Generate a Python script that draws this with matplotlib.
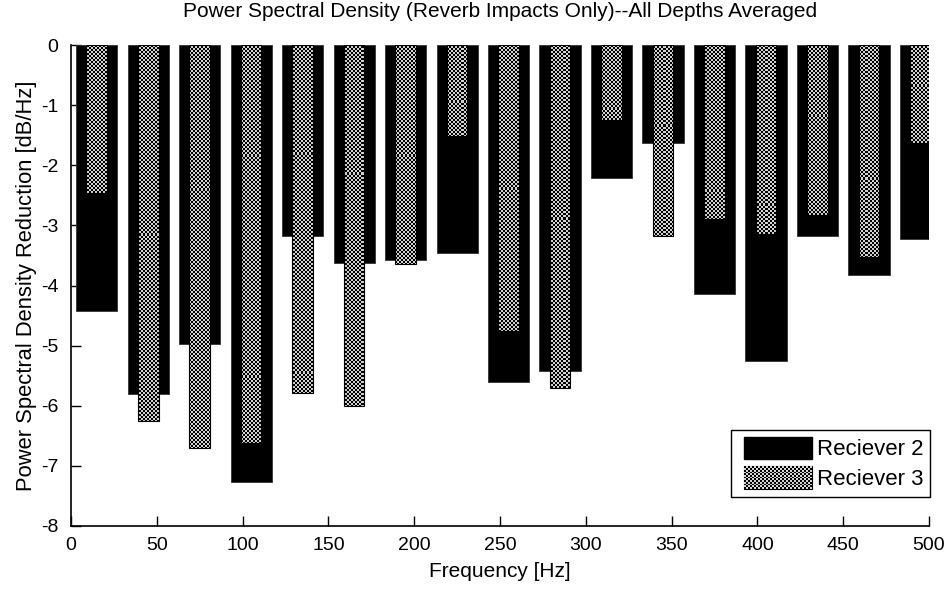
import numpy as np
import matplotlib
matplotlib.use("Agg")
import matplotlib.pyplot as plt
from matplotlib.patches import Rectangle
from matplotlib.legend_handler import HandlerBase

# ---- data ----
freqs = [15, 45, 75, 105, 135, 165, 195, 225, 255, 285, 315, 345, 375, 405, 435, 465, 495]
rec2 = [-4.42, -5.81, -4.97, -7.27, -3.18, -3.63, -3.57, -3.46, -5.61, -5.42,
        -2.21, -1.63, -4.14, -5.25, -3.18, -3.83, -3.23]
rec3 = [-2.46, -6.25, -6.71, -6.62, -5.79, -6.01, -3.65, -1.52, -4.75, -5.70,
        -1.24, -3.18, -2.89, -3.14, -2.83, -3.52, -1.63]
series_labels = ["Reciever 2", "Reciever 3"]
xticks = [0, 50, 100, 150, 200, 250, 300, 350, 400, 450, 500]
yticks = [0, -1, -2, -3, -4, -5, -6, -7, -8]
title = "Power Spectral Density (Reverb Impacts Only)--All Depths Averaged"
xlabel = "Frequency [Hz]"
ylabel = "Power Spectral Density Reduction [dB/Hz]"

plt.rcParams['font.family'] = ['Liberation Sans', 'DejaVu Sans']
FS_TICK = 14
FS = 15

fig = plt.figure(figsize=(9.5, 5.9), dpi=100)
ax = fig.add_axes([71/950, 1-526/590, 858/950, 481/590])

# checker texture (rendered like the reference's dithered grey)
H, W = 240, 429
ii, jj = np.indices((H, W))
checker = np.where((ii + jj) % 2 == 0, 0.0, 0.82)

b2 = ax.bar(freqs, rec2, width=24, color='black', edgecolor='#333333',
            linewidth=0.6, zorder=2, label=series_labels[0])
b3 = ax.bar(freqs, rec3, width=12, facecolor='none', edgecolor='black',
            linewidth=0.8, zorder=4, label=series_labels[1])
for rect in b3:
    im = ax.imshow(checker, extent=(0, 500, -8, 0), aspect='auto',
                   interpolation='nearest', cmap='gray', vmin=0, vmax=1,
                   zorder=3)
    im.set_clip_path(rect)

ax.set_xlim(0, 500)
ax.set_ylim(-8, 0)
ax.set_xticks(xticks)
ax.set_yticks(yticks)
ax.set_xticklabels([str(t) for t in xticks], fontsize=FS_TICK)
ax.set_yticklabels([str(t) for t in yticks], fontsize=FS_TICK)
ax.tick_params(direction='in', length=7, width=1.0)
ax.tick_params(axis='x', pad=8)
ax.tick_params(axis='y', pad=9)
for s in ['top', 'right']:
    ax.spines[s].set_visible(False)
for s in ['left', 'bottom']:
    ax.spines[s].set_linewidth(1.2)
    ax.spines[s].set_zorder(5)

ax.set_title(title, fontsize=FS, pad=20)
ax.set_xlabel(xlabel, fontsize=FS, labelpad=6)
ax.set_ylabel(ylabel, fontsize=15.8, labelpad=3)

LEG_FS = 16
LEFT_GAP = 7 / (LEG_FS * 100 / 72)   # extra left space inside handle box (fraction)


class CheckerHandler(HandlerBase):
    def create_artists(self, legend, orig_handle, xdescent, ydescent,
                       width, height, fontsize, trans):
        x0 = -xdescent + width * 0.09
        w = width * 0.91
        arts = [Rectangle((x0, -ydescent), w, height,
                          facecolor='black', edgecolor='black', linewidth=0.8,
                          transform=trans)]
        n_x, n_y = 34, 13
        cw, ch = w / n_x, height / n_y
        for i in range(n_x):
            for j in range(n_y):
                if (i + j) % 2 == 0:
                    continue
                arts.append(Rectangle((x0 + i * cw, -ydescent + j * ch), cw, ch,
                                      facecolor='#d2d2d2', edgecolor='none',
                                      transform=trans))
        return arts


class SolidHandler(HandlerBase):
    def create_artists(self, legend, orig_handle, xdescent, ydescent,
                       width, height, fontsize, trans):
        x0 = -xdescent + width * 0.09
        w = width * 0.91
        return [Rectangle((x0, -ydescent), w, height,
                          facecolor='black', edgecolor='black',
                          transform=trans)]


leg = ax.legend([b2, b3], series_labels, fontsize=LEG_FS,
                loc='upper right', bbox_to_anchor=(930/950, 1-430/590),
                bbox_transform=fig.transFigure, borderaxespad=0,
                fancybox=False, framealpha=1, edgecolor='black',
                handlelength=3.35, handleheight=1.17, handletextpad=0.22,
                borderpad=0.3, labelspacing=0.27,
                handler_map={b2: SolidHandler(), b3: CheckerHandler()})
leg.get_frame().set_linewidth(1.0)
leg.set_zorder(10)

fig.savefig("out.png", dpi=100)
